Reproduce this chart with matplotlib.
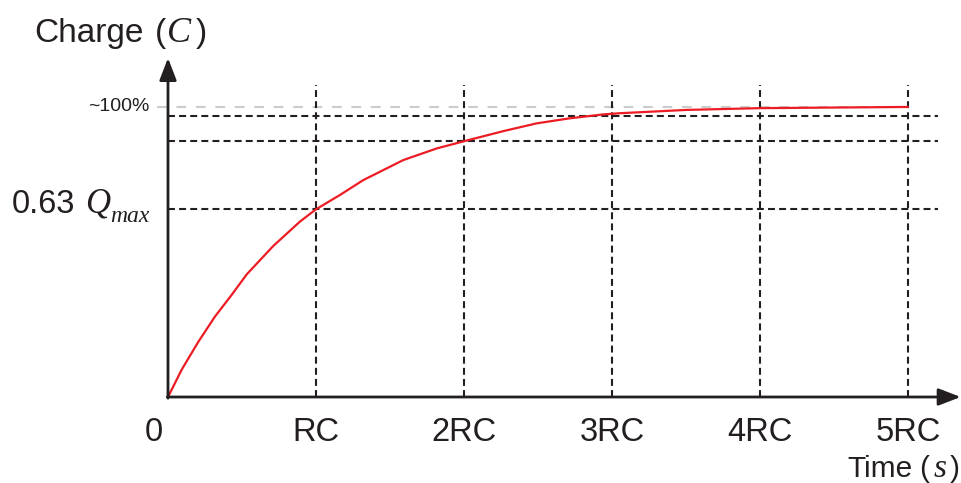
import numpy as np
import matplotlib
matplotlib.use('Agg')
import matplotlib.pyplot as plt

plt.rcParams['font.family'] = ['Liberation Sans', 'DejaVu Sans']
plt.rcParams['lines.scale_dashes'] = False

# time in units of RC, charge as fraction of Q_max
t = [0, 0.093, 0.205, 0.318, 0.430, 0.532, 0.711, 0.892, 1.0, 1.162, 1.320,
     1.590, 1.816, 2.007, 2.266, 2.491, 2.716, 2.941, 3.054, 3.5, 4.0, 4.5, 5.0]
q = [0, 0.092, 0.185, 0.270, 0.342, 0.411, 0.506, 0.588, 0.629, 0.677, 0.727,
     0.794, 0.833, 0.858, 0.891, 0.917, 0.934, 0.947, 0.951, 0.962, 0.968,
     0.970, 0.972]

tick_pos = [0, 1, 2, 3, 4, 5]
tick_labels = ['0', 'RC', '2RC', '3RC', '4RC', '5RC']
ref_levels = [0.63, 0.858, 0.942]   # black dashed guides
full_level = 0.972                  # grey "~100%" guide

dark = '#231f20'
red = '#ed1c24'
serif_it = dict(family='Liberation Serif', style='italic')

fig = plt.figure(figsize=(9.62, 4.83), dpi=100)
ax = fig.add_axes([0, 0, 1, 1])
ax.set_xlim(-1.1351, 5.3649)
ax.set_ylim(-0.2882, 1.3304)
ax.axis('off')

# guides
ax.plot([-0.074, 5.0], [full_level, full_level], color='#cccccc', lw=1.5,
        dashes=(7, 7))
for lv in ref_levels:
    ax.plot([0, 5.2], [lv, lv], color=dark, lw=1.5, dashes=(5, 3))
for x in tick_pos[1:]:
    ax.plot([x, x], [0, 1.045], color=dark, lw=1.5, dashes=(5, 3))

# curve
ax.plot(t, q, color=red, lw=1.6, solid_capstyle='round', solid_joinstyle='round')

# axes with arrows
arrow = dict(arrowstyle='-|>,head_length=1.35,head_width=0.52', lw=2,
             color=dark, shrinkA=0, shrinkB=0, mutation_scale=10)
ax.annotate('', xy=(0, 1.136), xytext=(0, -0.004), arrowprops=arrow)
ax.annotate('', xy=(5.356, 0), xytext=(-0.005, 0), arrowprops=arrow)

# labels
for x, lab in zip(tick_pos, tick_labels):
    xx = -0.095 if x == 0 else x
    ax.text(xx, -0.147, lab, ha='center', va='baseline', fontsize=23.5,
            color=dark)

# Charge (C)
ax.text(-0.905, 1.190, 'Charge', ha='left', va='baseline', fontsize=24,
        color=dark)
ax.text(-0.090, 1.190, '(', ha='left', va='baseline', fontsize=24, color=dark)
ax.text(-0.005, 1.190, 'C', ha='left', va='baseline', fontsize=26,
        color=dark, **serif_it)
ax.text(0.190, 1.190, ')', ha='left', va='baseline', fontsize=24, color=dark)

# Time (s)
ax.text(4.588, -0.268, 'Time', ha='left', va='baseline', fontsize=21.5,
        color=dark)
ax.text(5.078, -0.268, '(', ha='left', va='baseline', fontsize=21.5, color=dark)
ax.text(5.172, -0.268, 's', ha='left', va='baseline', fontsize=24,
        color=dark, **serif_it)
ax.text(5.280, -0.268, ')', ha='left', va='baseline', fontsize=21.5, color=dark)

ax.text(-0.122, full_level, '~100%', ha='right', va='center',
        fontsize=14, color=dark)

# 0.63 Q_max
ax.text(-1.054, 0.617, '0.63', ha='left', va='baseline', fontsize=23.5,
        color=dark)
ax.text(-0.557, 0.617, 'Q', ha='left', va='baseline', fontsize=25,
        color=dark, **serif_it)
ax.text(-0.392, 0.587, 'max', ha='left', va='baseline', fontsize=17,
        color=dark, **serif_it)

fig.savefig('out.png', dpi=100)
